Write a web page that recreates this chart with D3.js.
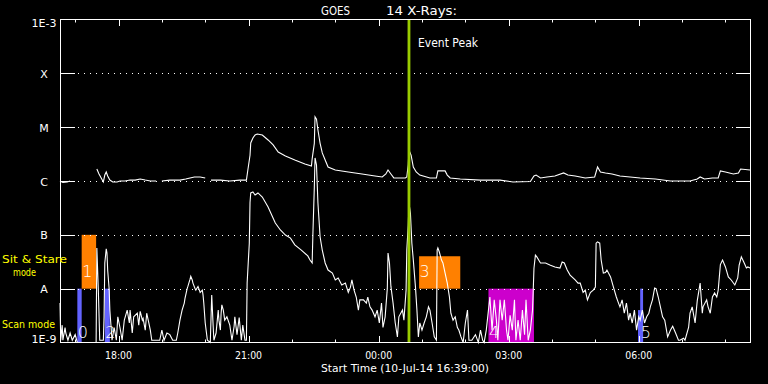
<!DOCTYPE html>
<html><head><meta charset="utf-8">
<script src="https://cdn.jsdelivr.net/npm/d3@7"></script>
<style>
html,body{margin:0;padding:0;background:#000;}
svg{display:block;}
text{font-family:"DejaVu Sans",sans-serif;fill:#fff;}
</style></head><body>
<svg id="c" width="768" height="384"></svg>
<script>
// ---------------- data ----------------
const startTime = Date.UTC(2014, 6, 10, 16, 39);   // 10-Jul-14 16:39:00
const spanMinutes = 955;                            // minutes shown
const eventPeakMinute = 483;                        // 00:42
const yTickValues = [1e-9, 1e-8, 1e-7, 1e-6, 1e-5, 1e-4, 1e-3];
const yTickLabels = ["1E-9", "A", "B", "C", "M", "X", "1E-3"];
const gridLevels = [1e-8, 1e-7, 1e-6, 1e-5, 1e-4];
const titleParts = ["GOES", "14 X-Rays:"];
const xAxisTitle = "Start Time (10-Jul-14 16:39:00)";

// long channel (1-8 A): [minutes after start, flux W/m^2]; null = data gap
const longChannel = [
 [0,1.0e-6],[4,9.4e-7],[10,9.6e-7],[14,1.0e-6],[15,null],
 [51,1.67e-6],[54,1.35e-6],[57,1.14e-6],[60,9.6e-7],[62,1.29e-6],[64,1.47e-6],[66,1.24e-6],[69,1.04e-6],
 [73,9.6e-7],[79,9.6e-7],[83,1.0e-6],[90,1.0e-6],[97,1.04e-6],[104,1.04e-6],[111,1.09e-6],[118,1.04e-6],
 [125,1.0e-6],[133,1.0e-6],[137,null],[141,1.0e-6],[152,1.04e-6],[166,1.04e-6],[174,1.09e-6],[180,1.14e-6],
 [186,1.19e-6],[194,1.19e-6],[201,1.14e-6],[205,null],[209,1.04e-6],[222,1.04e-6],[235,1.0e-6],[249,1.04e-6],
 [258,1.04e-6],[260,1.6e-6],[263,3.0e-6],[264,5.08e-6],[267,6.3e-6],[270,7.16e-6],[273,7.47e-6],[280,7.16e-6],
 [288,5.78e-6],[295,4.67e-6],[302,3.46e-6],[312,2.92e-6],[325,2.46e-6],[339,2.07e-6],[348,1.9e-6],[349,2.57e-6],
 [352,5.0e-6],[353,1.55e-5],[355,1.4e-5],[357,8.87e-6],[360,5.0e-6],[363,3.32e-6],[367,2.46e-6],[371,1.82e-6],
 [381,1.6e-6],[399,1.47e-6],[418,1.35e-6],[436,1.24e-6],[446,1.19e-6],[451,1.35e-6],[454,1.6e-6],[458,1.35e-6],
 [462,1.14e-6],[478,1.14e-6],[480,1.19e-6],[482,2.0e-6],[483,3.77e-6],[486,3.0e-6],[489,1.82e-6],[493,1.47e-6],
 [498,1.29e-6],[512,1.14e-6],[521,1.14e-6],[523,1.54e-6],[533,1.54e-6],[536,1.29e-6],[540,1.14e-6],[554,1.09e-6],
 [582,1.04e-6],[609,1.04e-6],[627,9.6e-7],[651,9.8e-7],[656,1.24e-6],[659,1.29e-6],[665,1.14e-6],[674,1.19e-6],
 [685,1.24e-6],[697,1.41e-6],[703,1.29e-6],[713,1.24e-6],[727,1.14e-6],[740,1.19e-6],[744,1.82e-6],[748,1.47e-6],
 [755,1.41e-6],[764,1.35e-6],[775,1.24e-6],[789,1.19e-6],[803,1.14e-6],[824,1.09e-6],[845,1.0e-6],[872,1.0e-6],
 [882,1.09e-6],[886,1.19e-6],[892,1.09e-6],[903,1.14e-6],[911,1.14e-6],[914,1.54e-6],[921,1.47e-6],[932,1.35e-6],
 [939,1.41e-6],[942,1.67e-6],[955,1.6e-6]
];

// short channel (0.5-4 A)
const shortChannel = [
 [0,5.4e-9],[1,1.1e-9],[3,2.1e-9],[4,1.1e-9],[7,1.9e-9],[8,1.5e-9],[11,1.1e-9],[14,1.5e-9],[17,1.1e-9],[21,1.4e-9],
 [24,1.0e-9],[30,1.0e-9],[50,1.0e-9],[51,5.7e-8],[53,1.0e-8],[55,1.1e-9],[60,1.1e-9],[61,3.0e-9],[62,3.0e-8],
 [64,5.5e-8],[65,4.6e-8],[66,2.2e-8],[68,1.0e-8],[69,4.0e-9],[72,1.1e-9],[75,1.9e-9],[78,1.1e-9],[80,3.0e-9],
 [83,1.9e-9],[86,1.1e-9],[89,2.6e-9],[93,4.0e-9],[96,2.3e-9],[97,4.0e-9],[100,1.5e-9],[102,3.0e-9],[107,3.5e-9],
 [109,2.1e-9],[111,3.8e-9],[114,2.6e-9],[115,2.8e-9],[118,1.7e-9],[120,3.5e-9],[123,2.3e-9],[125,1.7e-9],
 [127,1.1e-9],[132,1.1e-9],[138,1.1e-9],[141,1.7e-9],[144,1.1e-9],[148,1.5e-9],[152,1.4e-9],[156,1.1e-9],
 [161,1.1e-9],[163,1.5e-9],[166,2.6e-9],[169,4.0e-9],[172,5.4e-9],[173,6.6e-9],[176,1.0e-8],[177,1.1e-8],
 [180,1.5e-8],[181,1.7e-8],[183,1.45e-8],[184,1.27e-8],[187,1.0e-8],[188,9.4e-9],[191,1.1e-8],[194,8.5e-9],
 [197,9.4e-9],[198,7.6e-9],[199,5.4e-9],[201,2.3e-9],[204,1.1e-9],[208,1.0e-9],[210,7.6e-9],[212,2.0e-9],
 [213,1.1e-9],[216,1.5e-9],[219,4.0e-9],[220,2.6e-9],[222,1.7e-9],[223,3.5e-9],[224,5.0e-9],[226,4.0e-9],
 [228,2.6e-9],[231,3.0e-9],[235,2.1e-9],[238,1.1e-9],[241,2.0e-9],[242,3.0e-9],[245,1.4e-9],[248,2.9e-9],
 [251,1.1e-9],[253,2.1e-9],[256,1.1e-9],[258,1.1e-9],[259,1.27e-8],[262,7.0e-8],[263,4.0e-7],[264,6.0e-7],
 [267,6.25e-7],[270,5.5e-7],[274,6.0e-7],[280,5.05e-7],[288,3.29e-7],[298,1.66e-7],[305,1.23e-7],[312,9.9e-8],
 [319,8.7e-8],[325,6.5e-8],[334,5.2e-8],[343,4.05e-8],[346,3.41e-8],[349,3.0e-8],[350,1.0e-7],[352,7.7e-7],
 [353,2.68e-6],[355,1.98e-6],[357,3.91e-7],[360,9.1e-8],[363,5.2e-8],[367,3.0e-8],[371,2.22e-8],[377,1.95e-8],
 [381,1.45e-8],[385,1.58e-8],[390,1.17e-8],[395,1.27e-8],[399,8.5e-9],[402,1.07e-8],[404,1.45e-8],[407,9.4e-9],
 [410,7.0e-9],[413,4.0e-9],[415,6.2e-9],[420,6.2e-9],[424,5.4e-9],[426,7.0e-9],[429,4.6e-9],[432,4.0e-9],
 [436,3.0e-9],[439,4.0e-9],[442,2.3e-9],[445,5.4e-9],[447,1.9e-9],[450,3.0e-9],[453,1.0e-8],[454,4.6e-8],
 [456,3.0e-8],[458,1.1e-8],[461,5.4e-9],[464,2.3e-9],[467,1.27e-9],[469,3.0e-9],[474,4.0e-9],[476,2.6e-9],
 [479,9.4e-9],[480,5.2e-8],[482,1.52e-7],[483,3.9e-7],[485,2.55e-7],[487,7.0e-8],[489,3.4e-8],[492,1.07e-8],
 [494,4.0e-9],[496,1.27e-9],[498,2.3e-9],[501,1.7e-9],[504,2.3e-9],[507,3.0e-9],[510,4.6e-9],[512,4.0e-9],
 [515,2.3e-9],[518,1.27e-9],[521,1.1e-9],[522,5.2e-8],[523,5.7e-8],[525,4.8e-8],[528,3.4e-8],[530,3.0e-8],
 [533,1.95e-8],[536,1.27e-8],[539,7.0e-9],[541,3.5e-9],[544,2.6e-9],[547,3.0e-9],[550,1.9e-9],[552,1.7e-9],
 [555,1.27e-9],[558,1.0e-9],[561,2.3e-9],[564,4.0e-9],[566,1.1e-9],[570,1.1e-9],[575,1.4e-9],[579,1.0e-9],
 [582,1.7e-9],[585,1.1e-9],[587,1.0e-9],[590,1.7e-9],[593,4.0e-9],[595,7.0e-9],[598,1.7e-9],[601,6.2e-9],
 [604,2.6e-9],[606,1.1e-9],[609,6.2e-9],[612,2.6e-9],[615,6.2e-9],[618,1.7e-9],[620,1.1e-9],[623,3.2e-9],
 [626,1.7e-9],[629,6.2e-9],[631,1.1e-9],[634,2.6e-9],[637,1.1e-9],[640,4.0e-9],[643,1.4e-9],[645,6.2e-9],
 [648,1.1e-9],[651,1.7e-9],[654,4.0e-9],[655,9.4e-9],[656,2.4e-8],[658,4.2e-8],[660,3.9e-8],[665,3.0e-8],
 [672,3.0e-8],[678,2.75e-8],[685,2.53e-8],[692,2.42e-8],[695,3.13e-8],[698,3.0e-8],[702,2.22e-8],[706,1.79e-8],
 [713,1.45e-8],[717,1.27e-8],[720,1.27e-8],[724,8.5e-9],[727,9.4e-9],[730,6.2e-9],[734,8.5e-9],[738,9.4e-9],
 [741,1.07e-8],[742,7.0e-8],[744,7.4e-8],[747,7.0e-8],[749,3.4e-8],[752,1.95e-8],[755,2.0e-8],[757,2.22e-8],
 [762,1.65e-8],[766,1.07e-8],[770,7.0e-9],[773,5.4e-9],[775,4.6e-9],[778,6.2e-9],[781,3.5e-9],[784,5.4e-9],
 [787,2.6e-9],[789,3.5e-9],[792,2.3e-9],[795,4.0e-9],[798,1.7e-9],[801,3.0e-9],[803,2.6e-9],[806,4.0e-9],
 [809,2.3e-9],[812,3.0e-9],[815,3.5e-9],[817,4.6e-9],[820,6.2e-9],[823,1.03e-8],[825,1.0e-8],[828,7.0e-9],
 [831,4.6e-9],[834,3.0e-9],[837,2.6e-9],[841,1.27e-9],[845,1.7e-9],[848,2.0e-9],[852,1.5e-9],[856,1.1e-9],
 [858,1.1e-9],[863,1.2e-9],[865,1.1e-9],[870,1.9e-9],[872,3.5e-9],[875,4.6e-9],[879,2.3e-9],[882,6.0e-9],
 [886,1.27e-8],[889,3.5e-9],[890,4.6e-9],[895,6.2e-9],[897,4.6e-9],[900,3.5e-9],[903,7.0e-9],[906,8.3e-9],
 [909,7.0e-9],[911,9.4e-9],[914,2.8e-8],[917,3.4e-8],[921,2.53e-8],[925,1.65e-8],[929,1.45e-8],[934,1.17e-8],
 [938,1.58e-8],[940,2.75e-8],[943,3.9e-8],[947,3.0e-8],[950,2.42e-8],[952,2.53e-8],[955,2.42e-8]
];

// observing-mode boxes: label, mode, start/end minute, flux range
const modeBoxes = [
 {label:"0", mode:"scan",  start:24,  end:30,  low:1e-9, high:1e-8},
 {label:"1", mode:"stare", start:30,  end:50,  low:1e-8, high:1e-7},
 {label:"2", mode:"scan",  start:62,  end:69,  low:1e-9, high:1e-8},
 {label:"3", mode:"stare", start:497, end:554, low:1e-8, high:4e-8},
 {label:"4", mode:"other", start:593, end:656, low:1e-9, high:1e-8},
 {label:"",  mode:"scan",  start:800, end:807, low:1e-9, high:4e-9},
 {label:"5", mode:"scan",  start:803, end:807, low:1e-9, high:1e-8}
];
const modeLegend = [["Sit & Stare", "mode"], ["Scan mode"]];

// ---------------- drawing ----------------
const svg = d3.select("#c");
const W = 768, H = 384;
const L = 60.5, R = 750.5, T = 19.5, B = 342.5;
svg.append("rect").attr("width", W).attr("height", H).attr("fill", "#000");

const toDate = m => new Date(startTime + m * 60000);
const x = d3.scaleUtc().domain([toDate(0), toDate(spanMinutes)]).range([60, 750]);
const y = d3.scaleLog().domain([1e-9, 1e-3]).range([B, T]).clamp(true);

const modeColor = {scan: "#6363ff", stare: "#ff8000", other: "#cc00cc"};

// boxes
svg.append("g").selectAll("rect").data(modeBoxes).join("rect")
  .attr("x", d => x(toDate(d.start)))
  .attr("width", d => x(toDate(d.end)) - x(toDate(d.start)))
  .attr("y", d => y(d.high))
  .attr("height", d => y(d.low) - y(d.high))
  .attr("fill", d => modeColor[d.mode]);

// grid
svg.append("g").selectAll("line").data(gridLevels).join("line")
  .attr("x1", 75).attr("x2", 736)
  .attr("y1", d => Math.round(y(d)) + 0.5).attr("y2", d => Math.round(y(d)) + 0.5)
  .attr("stroke", "#fff").attr("stroke-width", 1)
  .attr("stroke-dasharray", "1 5").attr("stroke-dashoffset", -3);

// y ticks (both sides)
const yt = svg.append("g");
yt.selectAll("line.l").data(yTickValues.slice(1, -1)).join("line").attr("class", "l")
  .attr("x1", L).attr("x2", 75).attr("y1", d => Math.round(y(d)) + 0.5).attr("y2", d => Math.round(y(d)) + 0.5)
  .attr("stroke", "#fff");
yt.selectAll("line.r").data(yTickValues.slice(1, -1)).join("line").attr("class", "r")
  .attr("x1", 736).attr("x2", R).attr("y1", d => Math.round(y(d)) + 0.5).attr("y2", d => Math.round(y(d)) + 0.5)
  .attr("stroke", "#fff");
yt.selectAll("text").data(yTickValues).join("text")
  .attr("x", 44)
  .attr("y", (d, i) => y(d) + (i === 0 ? 0.5 : i === yTickValues.length - 1 ? 7.5 : 4.5))
  .attr("text-anchor", "middle").attr("font-size", 11)
  .text((d, i) => yTickLabels[i]);

// time axes ticks
function timeTicks(yPos, dir) {
  const g = svg.append("g");
  const minor = x.ticks(d3.utcHour.every(1));
  const major = x.ticks(d3.utcHour.every(3));
  g.selectAll("line.mi").data(minor).join("line").attr("class", "mi")
    .attr("x1", d => Math.round(x(d)) + 0.5).attr("x2", d => Math.round(x(d)) + 0.5)
    .attr("y1", yPos).attr("y2", yPos + dir * 3).attr("stroke", "#fff");
  g.selectAll("line.ma").data(major).join("line").attr("class", "ma")
    .attr("x1", d => Math.round(x(d)) + 0.5).attr("x2", d => Math.round(x(d)) + 0.5)
    .attr("y1", yPos).attr("y2", yPos + dir * 6.5).attr("stroke", "#fff");
  return major;
}
timeTicks(T, 1);
const majors = timeTicks(B, -1);
svg.append("g").selectAll("text").data(majors).join("text")
  .attr("x", d => x(d) - 13.5).attr("y", 358.5)
  .attr("font-size", 11).attr("textLength", 27).attr("lengthAdjust", "spacingAndGlyphs")
  .text(d3.utcFormat("%H:%M"));

// curves
const line = d3.line()
  .defined(d => d[1] != null)
  .x(d => x(toDate(d[0])))
  .y(d => y(d[1]));
[longChannel, shortChannel].forEach(s => {
  svg.append("path").attr("d", line(s)).attr("fill", "none")
    .attr("stroke", "#fff").attr("stroke-width", 1.1).attr("stroke-linejoin", "miter");
});

// box labels
svg.append("g").selectAll("text").data(modeBoxes.filter(d => d.label)).join("text")
  .attr("x", d => x(toDate(d.start)) + 0.5)
  .attr("y", d => y(d.low) - (d.mode === "stare" ? 11.5 : 4.5))
  .attr("font-size", 16).attr("font-weight", 200)
  .text(d => d.label);

// event peak
const ex = x(toDate(eventPeakMinute));
svg.append("line").attr("x1", ex).attr("x2", ex).attr("y1", T).attr("y2", B)
  .attr("stroke", "#99cc00").attr("stroke-width", 2.8);
svg.append("text").attr("x", 418).attr("y", 47).attr("font-size", 12)
  .attr("textLength", 60).attr("lengthAdjust", "spacingAndGlyphs").text("Event Peak");

// frame
svg.append("rect").attr("x", L).attr("y", T).attr("width", R - L).attr("height", B - T)
  .attr("fill", "none").attr("stroke", "#fff");

// titles
svg.append("text").attr("x", 321).attr("y", 15).attr("font-size", 13)
  .attr("textLength", 29).attr("lengthAdjust", "spacingAndGlyphs").text(titleParts[0]);
svg.append("text").attr("x", 386).attr("y", 15).attr("font-size", 13)
  .attr("textLength", 71).attr("lengthAdjust", "spacingAndGlyphs").text(titleParts[1]);
svg.append("text").attr("x", 321).attr("y", 372).attr("font-size", 11)
  .attr("textLength", 168).attr("lengthAdjust", "spacingAndGlyphs").text(xAxisTitle);

// legend text (yellow)
const leg = svg.append("g");
const legendRows = [
  {t: modeLegend[0][0], x: 2,  y: 262.5, w: 65},
  {t: modeLegend[0][1], x: 13, y: 275.5, w: 23},
  {t: modeLegend[1][0], x: 2,  y: 328,   w: 53}
];
leg.selectAll("text").data(legendRows).join("text")
  .attr("x", d => d.x).attr("y", d => d.y).attr("font-size", 10)
  .style("fill", "#ffff00")
  .attr("textLength", d => d.w).attr("lengthAdjust", "spacingAndGlyphs")
  .text(d => d.t);
</script>
</body></html>
